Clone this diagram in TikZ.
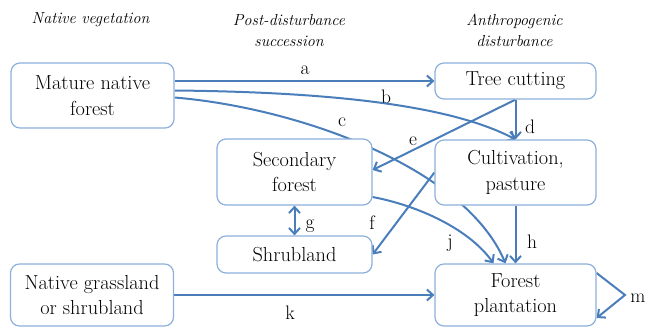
\documentclass[tikz,border=0pt]{standalone}
\usepackage{fontspec}
\usetikzlibrary{arrows.meta,calc,backgrounds}
\definecolor{arrblue}{HTML}{4A7EBB}
\definecolor{boxblue}{HTML}{8DB0DC}
\tikzset{
  box/.style={draw=boxblue, line width=1.2pt, fill=white, rounded corners=9pt, align=center, inner sep=0pt,
    font=\fontsize{20.3}{25.5}\selectfont},
  hdr/.style={align=center, inner sep=0pt, font=\fontsize{16}{21}\selectfont\itshape},
  lbl/.style={inner sep=0pt, font=\fontsize{19.5}{22}\selectfont},
  arr/.style={draw=arrblue, line width=2pt, -{Straight Barb[length=6pt,width=11pt]}},
  darr/.style={draw=arrblue, line width=2pt, {Straight Barb[length=6pt,width=11pt]}-{Straight Barb[length=6pt,width=11pt]}}
}
\begin{document}
\begin{tikzpicture}[x=1pt,y=-1pt]
\useasboundingbox (0,0) rectangle (649,327);
% headers
\node[hdr] (h1) at (90.5,20) {Native vegetation};
\node[hdr] (h2) at (289,30.5) {Post-disturbance\\succession};
\node[hdr] (h3) at (514.5,30.5) {Anthropogenic\\disturbance};
% boxes
\node[box, minimum width=163pt, minimum height=65pt] (mature) at (92.5,95.5) {Mature native\\forest};
\node[box, minimum width=161pt, minimum height=36pt] (tree) at (515.5,81) {Tree cutting};
\node[box, minimum width=161pt, minimum height=65pt] (cult) at (515.5,172.5) {Cultivation,\\pasture};
\node[box, minimum width=155pt, minimum height=66pt] (sec) at (294.5,172) {Secondary\\forest};
\node[box, minimum width=155pt, minimum height=37pt] (shrub) at (294.5,254.5) {Shrubland};
\node[box, minimum width=163pt, minimum height=62pt] (grass) at (92,295) {Native grassland\\or shrubland};
\node[box, minimum width=161pt, minimum height=62pt] (plant) at (515.5,295) {Forest\\plantation};
% connectors
\begin{scope}[on background layer]
\draw[arr] (mature.east |- tree.west) -- (tree.west);
\draw[arr] ($(mature.east)+(0,-5)$) .. controls (330,92) and (450,105) .. (cult.north);
\draw[arr] ($(mature.east)+(0,2)$) .. controls (300,108) and (465,168) .. ($(plant.north)+(-10,0)$);
\draw[arr] (tree.south) -- (cult.north);
\draw[arr] (tree.south) -- ($(sec.east)+(0,-2)$);
\draw[arr] (cult.west) -- (shrub.east);
\draw[darr] (sec.south) -- (shrub.north);
\draw[arr] (cult.south) -- (plant.north);
\draw[arr] ($(sec.east)+(0,25)$) .. controls (420,206) and (470,230) .. ($(plant.north)+(-22,0)$);
\draw[arr] (grass.east) -- (plant.west);
\coordinate (mtip) at (625,295);
\draw[arr] ($(plant.east)+(0,-22)$) -- (mtip) -- ($(plant.east)+(0,23)$);
\end{scope}
% labels
\node[lbl] (la) at (305,70) {a};
\node[lbl] (lb) at (386,97) {b};
\node[lbl] (lc) at (342,122) {c};
\node[lbl] (ld) at (530,127) {d};
\node[lbl] (le) at (413,141) {e};
\node[lbl] (lf) at (372,223) {f};
\node[lbl] (lg) at (310,226) {g};
\node[lbl] (lj) at (450,243) {j};
\node[lbl] (lh) at (532,242) {h};
\node[lbl] (lk) at (290,313) {k};
\node[lbl] (lm) at (638,298) {m};
\end{tikzpicture}
\end{document}
